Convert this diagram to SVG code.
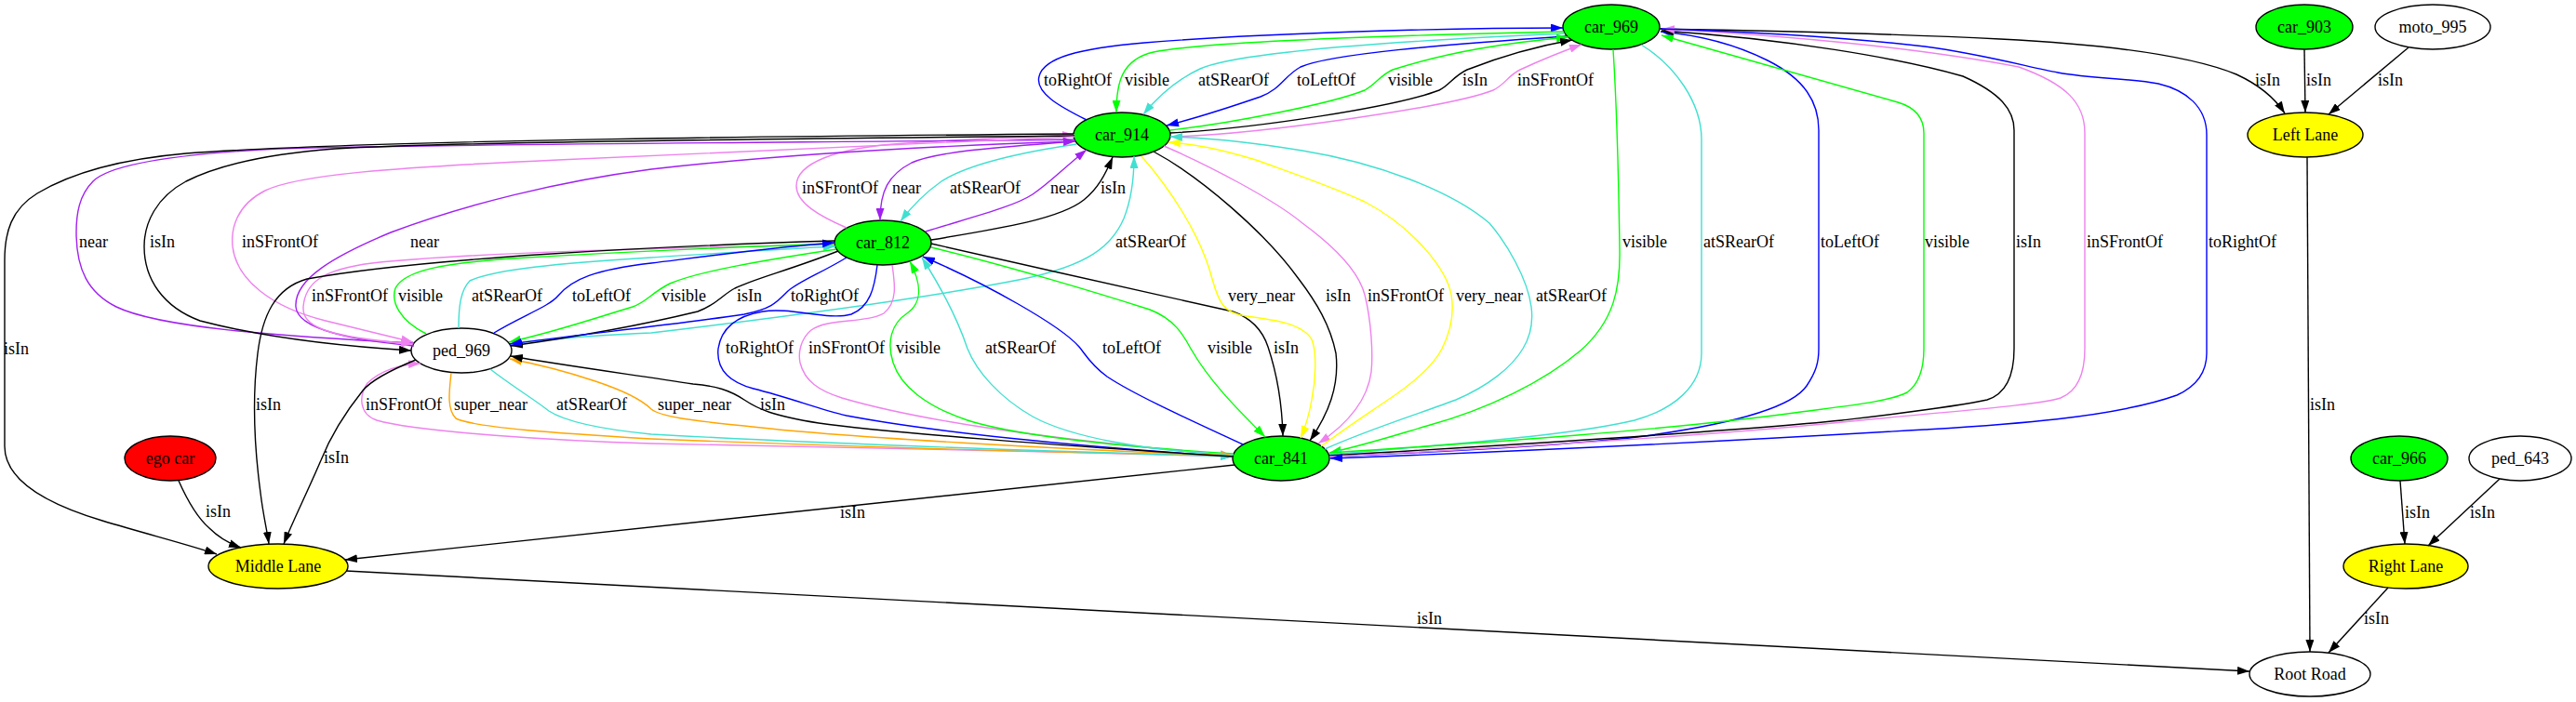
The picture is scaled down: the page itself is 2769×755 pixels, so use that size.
<svg xmlns="http://www.w3.org/2000/svg" width="2769" height="755" viewBox="0 0 2769 755">
<defs>
<style>
text{font-family:"Liberation Serif","Times New Roman",serif;font-size:18px;fill:#000}
.n ellipse{stroke:#000;stroke-width:1.4}
.n text{text-anchor:middle}
.e{fill:none;stroke-width:1.4}
.k{stroke:#000;marker-end:url(#ak)}
.b{stroke:#0000ff;marker-end:url(#ab)}
.g{stroke:#00ff00;marker-end:url(#ag)}
.c{stroke:#40e0d0;marker-end:url(#ac)}
.v{stroke:#ee82ee;marker-end:url(#av)}
.p{stroke:#a020f0;marker-end:url(#ap)}
.y{stroke:#ffff00;marker-end:url(#ay)}
.o{stroke:#ffa500;marker-end:url(#ao)}
</style>
<marker id="ak" viewBox="0 0 13 9" refX="13" refY="4.5" markerUnits="userSpaceOnUse" markerWidth="13" markerHeight="9" orient="auto"><path d="M0,0L13,4.5L0,9z" fill="#000"/></marker>
<marker id="ab" viewBox="0 0 13 9" refX="13" refY="4.5" markerUnits="userSpaceOnUse" markerWidth="13" markerHeight="9" orient="auto"><path d="M0,0L13,4.5L0,9z" fill="#0000ff"/></marker>
<marker id="ag" viewBox="0 0 13 9" refX="13" refY="4.5" markerUnits="userSpaceOnUse" markerWidth="13" markerHeight="9" orient="auto"><path d="M0,0L13,4.5L0,9z" fill="#00ff00"/></marker>
<marker id="ac" viewBox="0 0 13 9" refX="13" refY="4.5" markerUnits="userSpaceOnUse" markerWidth="13" markerHeight="9" orient="auto"><path d="M0,0L13,4.5L0,9z" fill="#40e0d0"/></marker>
<marker id="av" viewBox="0 0 13 9" refX="13" refY="4.5" markerUnits="userSpaceOnUse" markerWidth="13" markerHeight="9" orient="auto"><path d="M0,0L13,4.5L0,9z" fill="#ee82ee"/></marker>
<marker id="ap" viewBox="0 0 13 9" refX="13" refY="4.5" markerUnits="userSpaceOnUse" markerWidth="13" markerHeight="9" orient="auto"><path d="M0,0L13,4.5L0,9z" fill="#a020f0"/></marker>
<marker id="ay" viewBox="0 0 13 9" refX="13" refY="4.5" markerUnits="userSpaceOnUse" markerWidth="13" markerHeight="9" orient="auto"><path d="M0,0L13,4.5L0,9z" fill="#ffff00"/></marker>
<marker id="ao" viewBox="0 0 13 9" refX="13" refY="4.5" markerUnits="userSpaceOnUse" markerWidth="13" markerHeight="9" orient="auto"><path d="M0,0L13,4.5L0,9z" fill="#ffa500"/></marker>
</defs>
<rect width="2769" height="755" fill="#fff"/>

<g id="nodes">
<g id="car_969" class="n"><ellipse cx="1732" cy="29" rx="52" ry="24" fill="#00ff00"/><text x="1732" y="35">car_969</text></g>
<g id="car_914" class="n"><ellipse cx="1206" cy="145" rx="52" ry="24" fill="#00ff00"/><text x="1206" y="151">car_914</text></g>
<g id="car_812" class="n"><ellipse cx="949" cy="261" rx="52" ry="24" fill="#00ff00"/><text x="949" y="267">car_812</text></g>
<g id="ped_969" class="n"><ellipse cx="496" cy="377" rx="54" ry="24" fill="#fff"/><text x="496" y="383">ped_969</text></g>
<g id="car_841" class="n"><ellipse cx="1377" cy="493" rx="52" ry="24" fill="#00ff00"/><text x="1377" y="499">car_841</text></g>
<g id="ego_car" class="n"><ellipse cx="183" cy="493" rx="49" ry="24" fill="#ff0000"/><text x="183" y="499">ego car</text></g>
<g id="middle_lane" class="n"><ellipse cx="299" cy="609" rx="75" ry="24" fill="#ffff00"/><text x="299" y="615">Middle Lane</text></g>
<g id="left_lane" class="n"><ellipse cx="2478" cy="145" rx="62" ry="24" fill="#ffff00"/><text x="2478" y="151">Left Lane</text></g>
<g id="car_903" class="n"><ellipse cx="2477" cy="29" rx="52" ry="24" fill="#00ff00"/><text x="2477" y="35">car_903</text></g>
<g id="moto_995" class="n"><ellipse cx="2615" cy="29" rx="62" ry="24" fill="#fff"/><text x="2615" y="35">moto_995</text></g>
<g id="car_966" class="n"><ellipse cx="2579" cy="493" rx="52" ry="24" fill="#00ff00"/><text x="2579" y="499">car_966</text></g>
<g id="ped_643" class="n"><ellipse cx="2709" cy="493" rx="55" ry="24" fill="#fff"/><text x="2709" y="499">ped_643</text></g>
<g id="right_lane" class="n"><ellipse cx="2586" cy="609" rx="67" ry="24" fill="#ffff00"/><text x="2586" y="615">Right Lane</text></g>
<g id="root_road" class="n"><ellipse cx="2483" cy="725" rx="65" ry="24" fill="#fff"/><text x="2483" y="731">Root Road</text></g>
</g>

<g id="connectors">
<path class="e b" d="M1168,129 C1140,115 1112,100 1117,82 C1122,62 1160,52 1230,46 C1350,36 1550,30 1680,30"/>
<path class="e g" d="M1681,34 C1500,38 1300,44 1240,56 C1205,64 1200,90 1200,121"/>
<path class="e c" d="M1682,36 C1500,44 1330,56 1290,74 C1262,87 1243,106 1229,123"/>
<path class="e b" d="M1683,39 C1550,48 1430,58 1398,72 C1380,82 1378,95 1355,104 C1320,116 1290,126 1254,135"/>
<path class="e g" d="M1258,140 C1320,133 1430,112 1467,97 C1480,90 1482,82 1497,75 C1560,55 1620,46 1686,40"/>
<path class="e k" d="M1258,143 C1350,138 1500,115 1547,97 C1558,92 1562,82 1577,75 C1610,62 1650,50 1690,43"/>
<path class="e v" d="M1258,147 C1350,145 1560,115 1605,97 C1618,91 1620,82 1634,75 C1660,63 1680,55 1700,48"/>

<path class="e v" d="M910,245 C880,232 856,218 856,200 C856,175 900,160 960,155 C1030,150 1100,147 1155,145"/>
<path class="e p" d="M1156,152 C1080,158 1010,162 980,175 C955,188 946,205 946,237"/>
<path class="e c" d="M1157,155 C1090,165 1040,177 1012,195 C995,207 980,222 968,238"/>
<path class="e p" d="M995,249 C1050,232 1090,222 1110,209 C1128,197 1142,182 1168,161"/>
<path class="e k" d="M1001,258 C1080,245 1140,235 1165,215 C1180,203 1188,188 1196,169"/>

<path class="e p" d="M1155,150 C900,153 450,155 300,160 C200,165 120,175 100,195 C85,210 82,230 82,250 C82,290 95,315 125,330 C170,352 300,362 445,369"/>
<path class="e k" d="M1155,146 C900,149 500,152 360,160 C280,166 230,180 200,195 C168,212 155,240 155,265 C155,300 175,330 215,345 C280,362 360,372 442,377"/>
<path class="e v" d="M1155,147 C1000,155 800,163 600,172 C420,180 320,188 285,205 C255,220 248,245 250,265 C254,300 290,330 350,345 C390,355 420,362 444,368"/>
<path class="e p" d="M445,372 C380,366 320,355 318,330 C316,300 360,275 420,250 C500,220 600,195 700,182 C850,165 1000,157 1156,152"/>
<path class="e c" d="M550,369 C600,364 650,360 700,358 C850,340 1000,320 1100,300 C1170,285 1195,265 1208,235 C1216,215 1219,195 1219,168"/>

<path class="e v" d="M897,263 C700,267 500,272 400,283 C345,290 328,305 326,330 C325,350 345,362 444,370"/>
<path class="e g" d="M458,359 C430,345 420,325 425,310 C435,290 480,283 550,278 C650,272 780,266 897,262"/>
<path class="e c" d="M493,353 C493,330 495,312 505,302 C530,290 600,283 700,277 C780,272 850,267 898,265"/>
<path class="e b" d="M531,358 C560,340 590,330 600,318 C615,300 640,290 700,283 C780,273 840,265 897,261"/>
<path class="e g" d="M899,268 C820,280 750,292 720,305 C700,315 695,325 680,330 C640,342 600,356 547,368"/>
<path class="e k" d="M901,270 C850,290 810,300 790,310 C775,318 770,328 750,335 C680,352 600,365 549,372"/>
<path class="e b" d="M910,277 C880,295 860,302 847,313 C835,325 830,332 800,338 C720,350 620,360 548,370"/>

<path class="e b" d="M943,285 C940,310 935,330 915,338 C890,345 850,330 820,335 C790,340 775,355 772,375 C770,395 780,410 810,418 C850,428 880,440 910,447 C1000,464 1150,480 1325,491"/>
<path class="e v" d="M959,285 C962,305 965,325 950,337 C930,348 890,342 872,355 C860,365 858,380 860,390 C865,410 880,420 905,428 C980,450 1100,470 1325,490"/>
<path class="e g" d="M1326,488 C1200,480 1090,468 1040,452 C995,437 968,415 960,390 C953,368 958,348 975,337 C990,327 992,308 978,281"/>
<path class="e c" d="M1326,489 C1230,485 1150,470 1110,448 C1075,428 1050,400 1040,375 C1030,345 1012,310 991,277"/>
<path class="e b" d="M1336,478 C1280,452 1220,425 1190,405 C1172,392 1166,380 1160,373 C1140,350 1060,305 992,276"/>
<path class="e g" d="M1001,266 C1080,285 1180,315 1236,333 C1262,343 1272,360 1280,375 C1300,410 1330,440 1360,470"/>
<path class="e k" d="M1001,262 C1100,285 1250,318 1325,335 C1345,342 1357,355 1363,373 C1372,400 1378,430 1379,469"/>

<path class="e v" d="M1325,491 C1100,485 800,478 700,477 C600,474 450,465 405,452 C385,445 386,425 395,412 C410,398 430,392 452,391"/>
<path class="e o" d="M485,401 C483,420 480,440 490,450 C510,460 600,466 700,472 C900,480 1150,487 1325,490"/>
<path class="e c" d="M527,397 C550,415 575,430 590,442 C610,455 650,462 700,467 C900,478 1150,486 1325,491"/>
<path class="e o" d="M1325,490 C1150,484 900,470 800,458 C740,452 710,448 700,440 C690,430 670,420 640,410 C610,400 580,392 548,386"/>
<path class="e k" d="M1325,491 C1150,480 950,465 880,455 C830,447 815,440 800,430 C785,420 770,415 745,413 C680,403 600,392 549,383"/>

<path class="e k" d="M1154,144 C900,146 400,150 200,165 C120,172 70,190 40,208 C12,225 5,250 5,280 L5,480 C5,520 60,545 110,560 C160,575 200,585 233,596"/>
<path class="e k" d="M192,517 C200,535 210,555 225,568 C235,578 245,584 259,589"/>
<path class="e k" d="M897,259 C700,265 450,278 330,300 C295,310 282,340 277,380 C272,420 272,470 280,530 C283,555 287,570 289,585"/>
<path class="e k" d="M447,387 C420,398 400,408 390,420 C370,445 355,470 345,495 C330,530 315,560 305,585"/>
<path class="e k" d="M1327,500 L371,602"/>
<path class="e k" d="M372,614 L2418,722"/>
<path class="e k" d="M2480,169 L2483,701"/>
<path class="e k" d="M1784,31 C1900,33 2050,37 2150,42 C2250,47 2350,58 2404,80 C2430,92 2445,105 2456,122"/>
<path class="e k" d="M2477,53 L2478,121"/>
<path class="e k" d="M2589,51 L2503,123"/>
<path class="e k" d="M2580,517 L2585,585"/>
<path class="e k" d="M2687,515 L2610,587"/>
<path class="e k" d="M2567,632 L2503,702"/>

<path class="e g" d="M1734,53 C1737,100 1740,200 1741,267 C1742,310 1735,345 1699,377 C1660,410 1600,440 1534,458 C1500,468 1470,478 1429,487"/>
<path class="e c" d="M1764,48 C1800,70 1829,110 1829,150 L1829,380 C1829,415 1800,440 1757,452 C1680,470 1550,478 1429,489"/>
<path class="e b" d="M1429,491 C1550,486 1670,480 1760,470 C1850,458 1925,440 1942,415 C1952,400 1955,390 1955,375 L1955,140 C1955,110 1940,85 1900,65 C1870,50 1830,38 1785,34"/>
<path class="e g" d="M1429,487 C1600,476 1800,462 1936,443 C1990,436 2030,432 2050,422 C2064,412 2068,395 2068,375 L2068,143 C2068,128 2060,116 2040,110 C2000,98 1900,70 1786,38"/>
<path class="e k" d="M1429,490 C1600,480 1850,465 1980,452 C2030,446 2100,438 2136,430 C2155,424 2165,405 2165,375 L2165,140 C2165,118 2150,100 2110,82 C2040,62 1920,42 1786,33"/>
<path class="e v" d="M1429,491 C1600,483 1850,468 2000,452 C2100,442 2190,436 2215,428 C2235,420 2241,400 2241,375 L2241,143 C2241,110 2220,90 2170,72 C2080,55 1950,40 1787,31"/>
<path class="e b" d="M1785,31 C1900,35 2000,42 2069,50 C2130,58 2180,72 2212,78 C2250,85 2290,84 2320,90 C2350,97 2372,115 2372,145 L2372,380 C2372,400 2362,415 2340,425 C2270,450 2150,457 2069,462 C1900,472 1650,485 1430,493"/>

<path class="e y" d="M1227,168 C1255,200 1290,250 1303,300 C1310,325 1315,337 1340,340 C1370,344 1400,348 1410,365 C1416,380 1414,410 1410,430 C1407,447 1403,460 1398,471"/>
<path class="e k" d="M1240,163 C1290,190 1360,250 1396,300 C1415,325 1430,350 1436,380 C1440,415 1428,445 1408,474"/>
<path class="e v" d="M1251,157 C1300,178 1370,215 1400,240 C1430,262 1460,290 1467,317 C1474,345 1476,380 1474,400 C1470,430 1450,455 1417,477"/>
<path class="e y" d="M1420,480 C1450,458 1470,445 1489,432 C1515,415 1540,395 1550,375 C1560,355 1563,335 1560,317 C1555,290 1520,245 1467,217 C1430,200 1400,190 1350,172 C1310,160 1285,155 1256,153"/>
<path class="e c" d="M1424,483 C1470,462 1534,442 1565,430 C1600,415 1625,395 1637,375 C1646,360 1648,345 1646,330 C1642,300 1620,262 1601,240 C1560,205 1480,175 1400,162 C1340,152 1290,148 1258,147"/>
</g>

<g id="edge-labels">
<text x="1122" y="92">toRightOf</text>
<text x="1209" y="92">visible</text>
<text x="1288" y="92">atSRearOf</text>
<text x="1394" y="92">toLeftOf</text>
<text x="1492" y="92">visible</text>
<text x="1572" y="92">isIn</text>
<text x="1631" y="92">inSFrontOf</text>
<text x="2424" y="92">isIn</text>
<text x="2479" y="92">isIn</text>
<text x="2556" y="92">isIn</text>

<text x="862" y="208">inSFrontOf</text>
<text x="959" y="208">near</text>
<text x="1021" y="208">atSRearOf</text>
<text x="1129" y="208">near</text>
<text x="1183" y="208">isIn</text>

<text x="85" y="266">near</text>
<text x="161" y="266">isIn</text>
<text x="260" y="266">inSFrontOf</text>
<text x="441" y="266">near</text>
<text x="1199" y="266">atSRearOf</text>
<text x="1744" y="266">visible</text>
<text x="1831" y="266">atSRearOf</text>
<text x="1957" y="266">toLeftOf</text>
<text x="2069" y="266">visible</text>
<text x="2167" y="266">isIn</text>
<text x="2243" y="266">inSFrontOf</text>
<text x="2374" y="266">toRightOf</text>

<text x="335" y="324">inSFrontOf</text>
<text x="428" y="324">visible</text>
<text x="507" y="324">atSRearOf</text>
<text x="615" y="324">toLeftOf</text>
<text x="711" y="324">visible</text>
<text x="792" y="324">isIn</text>
<text x="850" y="324">toRightOf</text>
<text x="1320" y="324">very_near</text>
<text x="1425" y="324">isIn</text>
<text x="1470" y="324">inSFrontOf</text>
<text x="1565" y="324">very_near</text>
<text x="1651" y="324">atSRearOf</text>

<text x="4" y="381">isIn</text>
<text x="780" y="380">toRightOf</text>
<text x="869" y="380">inSFrontOf</text>
<text x="963" y="380">visible</text>
<text x="1059" y="380">atSRearOf</text>
<text x="1185" y="380">toLeftOf</text>
<text x="1298" y="380">visible</text>
<text x="1369" y="380">isIn</text>

<text x="275" y="441">isIn</text>
<text x="393" y="441">inSFrontOf</text>
<text x="488" y="441">super_near</text>
<text x="598" y="441">atSRearOf</text>
<text x="707" y="441">super_near</text>
<text x="817" y="441">isIn</text>
<text x="2483" y="441">isIn</text>

<text x="348" y="498">isIn</text>
<text x="221" y="556">isIn</text>
<text x="903" y="557">isIn</text>
<text x="2585" y="557">isIn</text>
<text x="2655" y="557">isIn</text>
<text x="1523" y="671">isIn</text>
<text x="2541" y="671">isIn</text>
</g>
</svg>
